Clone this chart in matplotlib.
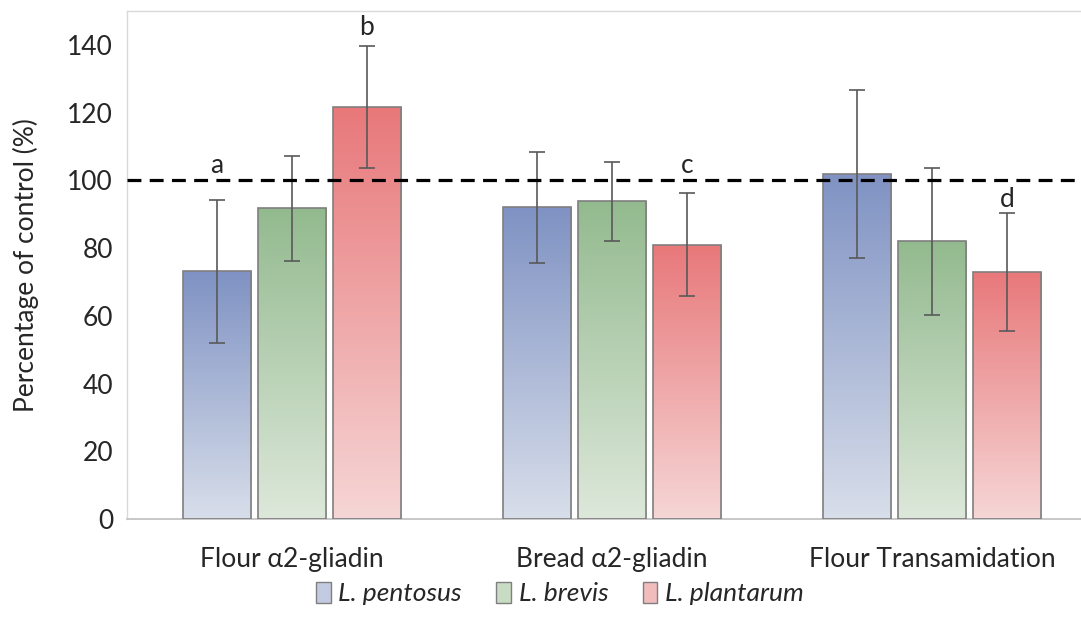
import matplotlib
matplotlib.use('Agg')
import matplotlib.pyplot as plt
import numpy as np
from matplotlib.colors import to_rgb
from matplotlib.patches import Patch

# ---------------- data ----------------
categories = ['Flour α2-gliadin', 'Bread α2-gliadin', 'Flour Transamidation']
series = ['L. pentosus', 'L. brevis', 'L. plantarum']
pentosus = [73.1, 92.0, 101.9]
pentosus_err = [21.0, 16.4, 24.7]
brevis = [91.7, 93.8, 82.0]
brevis_err = [15.5, 11.6, 21.7]
plantarum = [121.6, 81.0, 73.0]
plantarum_err = [18.0, 15.2, 17.4]
letters = ['a', 'b', 'c', 'd']
letter_cat = [0, 0, 1, 2]
letter_series = [0, 2, 2, 2]
letter_y = [104.3, 145.0, 104.5, 94.4]
yticks = [0, 20, 40, 60, 80, 100, 120, 140]
control_level = 100
ylabel = 'Percentage of control (%)'

# ---------------- style ----------------
plt.rcParams['font.family'] = ['Lato', 'DejaVu Sans']
plt.rcParams['lines.scale_dashes'] = False
txt_color = '#262626'
top_colors = ['#7f92c3', '#93ba8f', '#e8787a']
bot_colors = ['#d8deea', '#dde8da', '#f6d6d6']
leg_colors = ['#c3cbe0', '#c8dcc4', '#f1bcbc']
edge_color = '#7f7f7f'
fs = 19

fig = plt.figure(figsize=(10.81, 6.34), dpi=100)
ax = fig.add_axes([127/1081, 1-519/634, (1081-127)/1081, (519-11)/634])

values = [pentosus, brevis, plantarum]
errors = [pentosus_err, brevis_err, plantarum_err]
x = np.arange(len(categories))
offsets = [-0.234, 0.0, 0.234]
width = 0.2125

for s in range(3):
    bars = ax.bar(x + offsets[s], values[s], width, facecolor=top_colors[s],
                  edgecolor=edge_color, linewidth=1.2, zorder=3)
    top = np.array(to_rgb(top_colors[s]))
    bot = np.array(to_rgb(bot_colors[s]))
    t = np.linspace(0, 1, 256)[:, None]
    grad = (top[None, :] * (1 - t) + bot[None, :] * t)[:, None, :]
    for b in bars:
        x0 = b.get_x(); w = b.get_width(); h = b.get_height()
        im = ax.imshow(grad, extent=[x0, x0 + w, 0, h], origin='upper',
                       aspect='auto', zorder=2, interpolation='bilinear')
        im.set_clip_path(b)
        b.set_facecolor('none')
    ax.errorbar(x + offsets[s], values[s], yerr=errors[s], fmt='none',
                ecolor='#595959', elinewidth=1.2, capsize=5.5, capthick=1.2,
                zorder=5)

ax.axhline(control_level, color='black', linewidth=2.3, dashes=(10, 6), zorder=6)

for lt, c, s, yv in zip(letters, letter_cat, letter_series, letter_y):
    ax.text(x[c] + offsets[s], yv, lt, ha='center', va='center',
            fontsize=fs, color=txt_color, zorder=7)

ax.set_xlim(-0.5156, 2.4656)
ax.set_ylim(0, 150)
ax.set_yticks(yticks)
ax.set_xticks(x)
ax.set_xticklabels(categories)
ax.tick_params(axis='y', length=0, pad=10, labelsize=fs, labelcolor=txt_color)
ax.tick_params(axis='x', length=0, pad=20, labelsize=fs, labelcolor=txt_color)
ax.set_ylabel(ylabel, fontsize=fs, color=txt_color)
ax.yaxis.set_label_coords(-0.092, 0.5)

for sp in ['top', 'left']:
    ax.spines[sp].set_color('#d9d9d9')
    ax.spines[sp].set_linewidth(1.0)
ax.spines['bottom'].set_color('#bfbfbf')
ax.spines['bottom'].set_linewidth(1.2)
ax.spines['right'].set_visible(False)

handles = [Patch(facecolor=leg_colors[i], edgecolor=edge_color, linewidth=1.0)
           for i in range(3)]
leg = fig.legend(handles, series, loc='center', bbox_to_anchor=(0.518, 0.064),
                 ncol=3, frameon=False, handlelength=0.55, handleheight=0.85,
                 handletextpad=0.3, columnspacing=1.3,
                 prop={'size': fs, 'style': 'italic', 'family': ['Lato', 'DejaVu Sans']})
for t_ in leg.get_texts():
    t_.set_color(txt_color)

fig.savefig('out.png', dpi=100)
